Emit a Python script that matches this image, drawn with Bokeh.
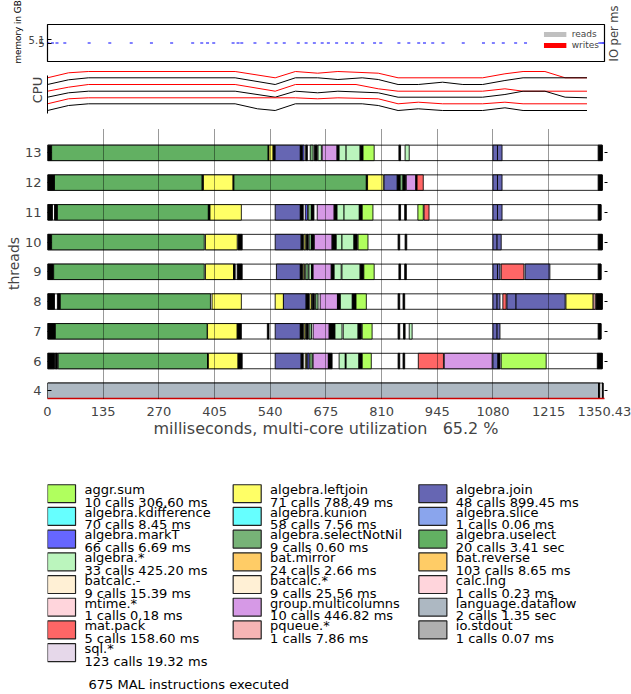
import math
from bokeh.plotting import figure
from bokeh.layouts import column
from bokeh.models import (Range1d, FixedTicker, LinearAxis, ColumnDataSource,
                          Legend, LegendItem, Title)
from bokeh.core.properties import value
from bokeh.embed import file_html
from bokeh.resources import INLINE

FONT = "DejaVu Sans"
W = 631
T_END = 1350.43

# ---------------- data ----------------
x_ticks = [0, 135, 270, 405, 540, 675, 810, 945, 1080, 1215, 1350.43]
threads = ["4", "6", "7", "8", "9", "10", "11", "12", "13"]

# memory samples (ms, GB)
mem_t = [1, 12, 23, 42, 101, 151, 203, 252, 301, 352, 374, 388, 403, 450, 462, 471,
         503, 535, 554, 574, 608, 627, 647, 666, 681, 701, 725, 739, 764, 793, 808,
         852, 876, 900, 914, 934, 959, 1008, 1057, 1081, 1105, 1135, 1159, 1339, 1345, 1349]
mem_v = [5.0] * len(mem_t)

# IO per ms over the run (no IO happened)
io_reads = [0]
io_writes = [0]

# CPU utilisation lines (ms, stacked level)
cpu1_t = [0, 51, 99, 455, 552, 601, 655, 704, 802, 850, 1055, 1109, 1153, 1206, 1255, 1308]
cpu1_v = [35.7, 40.7, 42, 42, 35.7, 42, 40.3, 42, 40.3, 35.7, 35.7, 39.7, 42, 42, 35.7, 35.7]
cpu2_t = [0, 51, 99, 455, 552, 601, 655, 704, 763, 802, 850, 899, 958, 1007, 1055, 1109, 1153, 1308]
cpu2_v = [29, 33.7, 35.7, 35.7, 29, 35.7, 35.7, 34, 35.7, 34, 29, 29, 31.3, 29, 29, 33, 35.7, 35.7]
cpu3_t = [0, 51, 99, 455, 552, 601, 748, 802, 850, 1055, 1109, 1153, 1308]
cpu3_v = [22.3, 26.3, 29, 29, 22.3, 29, 29, 24.7, 22.3, 22.3, 24.7, 22.3, 22.3]
cpu4_t = [0, 51, 99, 455, 552, 601, 655, 704, 802, 850, 1055, 1109, 1153, 1206, 1255, 1308]
cpu4_v = [16.3, 20.7, 22.3, 22.3, 16.3, 22.3, 20.7, 22.3, 20.7, 16.3, 16.3, 19, 22.3, 22.3, 16.3, 15.7]
cpu5_t = [0, 51, 99, 601, 655, 704, 802, 850, 899, 958, 1055, 1109, 1153, 1308]
cpu5_v = [9.7, 14.7, 15.7, 15.7, 14.7, 15.7, 14.7, 9.7, 11.3, 9.7, 9.7, 11.3, 9.7, 9.7]
cpu6_t = [0, 51, 99, 455, 509, 552, 601, 763, 802, 850, 899, 958, 1055, 1109, 1153, 1308]
cpu6_v = [3, 8, 9.7, 9.7, 4.7, 3, 9.7, 9.7, 8, 3, 4.7, 3, 3, 5.7, 3, 3]

# legend / statistics
mal_names = ["aggr.sum", "algebra.leftjoin", "algebra.join",
             "algebra.kdifference", "algebra.kunion", "algebra.slice",
             "algebra.markT", "algebra.selectNotNil", "algebra.uselect",
             "algebra.*", "bat.mirror", "bat.reverse",
             "batcalc.-", "batcalc.*", "calc.lng",
             "mtime.*", "group.multicolumns", "language.dataflow",
             "mat.pack", "pqueue.*", "io.stdout",
             "sql.*"]
mal_calls = [10, 71, 48, 70, 58, 1, 66, 9, 20, 33, 24, 103, 9, 9, 1, 1, 10, 2, 5, 1, 1, 123]
mal_ms = [306.60, 788.49, 899.45, 8.45, 7.56, 0.06, 6.69, 0.60, 3410, 425.20, 2.66, 8.65,
          15.39, 25.56, 0.23, 0.18, 446.82, 1350, 158.60, 7.86, 0.07, 19.32]
mal_colors = ["#b0ff5e", "#ffff66", "#6666b3",
              "#66ffff", "#66ffff", "#8aa5ed",
              "#6666ff", "#77b377", "#62b062",
              "#bbf5bd", "#ffcc66", "#ffcc66",
              "#fff0d5", "#fff0d5", "#ffd5dc",
              "#ffd5dc", "#d699e6", "#adb8c2",
              "#ff6666", "#f5b5b5", "#b0b0b0",
              "#e6d8ea"]
total_instructions = 675
utilization = 65.2

# per-thread execution segments (start ms, end ms, instruction)
U, L, J, T, N, A = "algebra.uselect", "algebra.leftjoin", "algebra.join", "algebra.markT", "algebra.selectNotNil", "algebra.*"
S, G, M, P, D, K = "aggr.sum", "group.multicolumns", "mat.pack", "pqueue.*", "language.dataflow", "short"

seg_13 = [(0, 10, K), (10, 535, U), (535, 537, K), (537, 547, L), (547, 552, K), (552, 613, J), (613, 618, K),
          (618, 622, T), (626, 630, K), (637, 644, N), (647, 654, K), (656, 664, A), (666, 702, G), (702, 707, K),
          (707, 724, A), (724, 758, A), (758, 765, K), (765, 792, S), (852, 856, K), (867, 877, A),
          (1080, 1091, J), (1091, 1102, J), (1335, 1345, K)]
seg_12 = [(0, 17, K), (17, 375, U), (375, 378, K), (378, 450, L), (450, 452, K), (452, 773, U), (773, 776, K),
          (776, 814, L), (816, 848, J), (848, 855, K), (855, 862, N), (862, 868, K), (870, 893, G), (893, 896, K),
          (896, 911, M), (1080, 1091, J), (1091, 1102, J), (1335, 1345, K)]
seg_11 = [(0, 12, K), (17, 24, K), (24, 390, U), (390, 394, K), (394, 470, L), (552, 613, J), (613, 620, K),
          (625, 630, T), (632, 640, N), (640, 646, K), (654, 695, G), (695, 702, K), (702, 719, A), (719, 756, A),
          (756, 763, K), (763, 789, S), (852, 856, K), (866, 870, K), (898, 911, S), (913, 925, M),
          (1080, 1091, J), (1091, 1102, J), (1335, 1342, K)]
seg_10 = [(0, 10, K), (10, 380, U), (383, 460, L), (462, 472, K), (552, 615, J), (615, 620, K), (622, 626, L),
          (628, 632, K), (634, 640, N), (640, 646, K), (647, 690, G), (690, 700, K), (700, 714, A), (714, 743, A),
          (743, 751, K), (753, 777, S), (850, 854, K), (867, 871, K), (1080, 1090, J), (1090, 1100, J),
          (1335, 1345, K)]
seg_9 = [(0, 15, K), (15, 380, U), (383, 451, L), (451, 455, K), (460, 472, K), (555, 613, J), (613, 618, K),
         (620, 623, L), (626, 632, N), (634, 640, A), (640, 644, K), (644, 688, G), (688, 695, K), (695, 712, A),
         (714, 758, A), (758, 767, K), (767, 792, S), (852, 856, K), (866, 870, K), (1080, 1091, J),
         (1091, 1097, J), (1100, 1155, M), (1158, 1218, J), (1335, 1342, K)]
seg_8 = [(0, 17, K), (24, 31, K), (31, 395, U), (399, 470, L), (552, 572, L), (572, 627, J), (627, 634, K),
         (636, 640, L), (642, 647, K), (650, 656, N), (661, 703, G), (703, 710, K), (710, 739, A), (739, 748, K),
         (748, 773, S), (850, 854, K), (862, 866, K), (1080, 1090, J), (1090, 1097, J), (1104, 1112, M),
         (1114, 1136, J), (1136, 1255, J), (1257, 1323, L), (1323, 1328, P), (1330, 1345, K)]
seg_7 = [(0, 19, K), (19, 387, U), (388, 460, L), (460, 470, K), (533, 537, K), (552, 613, J), (613, 620, K),
         (622, 625, L), (627, 632, K), (634, 640, N), (644, 683, G), (683, 697, K), (697, 714, A), (717, 753, A),
         (753, 761, K), (763, 787, S), (850, 854, K), (863, 867, K), (877, 884, A), (1080, 1090, J),
         (1090, 1097, J), (1335, 1342, K)]
seg_6 = [(0, 17, K), (19, 24, K), (26, 388, U), (388, 390, K), (390, 462, L), (462, 472, K), (552, 615, J),
         (615, 620, K), (625, 628, L), (630, 634, T), (636, 642, N), (644, 681, G), (681, 690, K), (707, 722, A),
         (722, 724, K), (724, 755, A), (755, 763, K), (763, 785, S), (850, 854, K), (862, 866, K), (899, 960, M),
         (962, 1078, G), (1080, 1092, J), (1092, 1097, K), (1100, 1209, S), (1333, 1345, K)]
seg_4 = [(0, 1336, D), (1336, 1339, K), (1345, 1347, K)]

thread_segments = [seg_4, seg_6, seg_7, seg_8, seg_9, seg_10, seg_11, seg_12, seg_13]

# ---------------- helpers ----------------
color_of = dict(zip(mal_names, mal_colors))
color_of[K] = "black"


def fmt_time(ms):
    return f"{ms / 1000:.2f} sec" if ms >= 1000 else f"{ms:.2f} ms"


def style_axis(ax, size="13px"):
    ax.axis_label_text_font = FONT
    ax.axis_label_text_font_style = "normal"
    ax.major_label_text_font = FONT
    ax.major_label_text_font_size = size
    ax.minor_tick_line_color = None


common = dict(width=W, output_backend="svg", toolbar_location=None,
              min_border_left=47, min_border_right=27,
              background_fill_color="white", border_fill_color="white")

# ---------------- memory / IO panel ----------------
mem = figure(height=64, x_range=Range1d(0, T_END), y_range=Range1d(4.4, 5.6),
             min_border_top=24, min_border_bottom=3, **common)
mem.extra_y_ranges = {"io": Range1d(0, 1)}
mem.xaxis.visible = False
mem.grid.visible = False
mem.outline_line_color = "black"
mem.outline_line_width = 1.2
mem.yaxis.ticker = FixedTicker(ticks=[5.0, 5.1])
style_axis(mem.yaxis[0], "10px")
mem.yaxis.major_tick_in = 4
mem.yaxis.major_tick_out = 0
mem.yaxis.major_label_standoff = 3
mem.yaxis.axis_line_color = None
mem.add_layout(Title(text="memory in GB", align="left", offset=-2, standoff=6,
                     text_font=FONT, text_font_style="normal", text_font_size="8.8px",
                     text_color="black"), "left")

io_axis = LinearAxis(y_range_name="io", ticker=FixedTicker(ticks=[]), axis_label="IO per ms",
                     axis_line_color=None, axis_label_standoff=9)
style_axis(io_axis)
io_axis.axis_label_text_font_size = "11.5px"
if "axis_label_align" in io_axis.properties():
    io_axis.axis_label_orientation = math.pi / 2
    io_axis.axis_label_align = "start"
mem.add_layout(io_axis, "right")

mem.scatter(mem_t, mem_v, marker="dash", size=3, line_color="blue", line_width=1)
r_reads = mem.quad(left=[0], right=[T_END], top=io_reads, bottom=[0], y_range_name="io",
                   fill_color="#c0c0c0", line_color=None)
r_writes = mem.quad(left=[0], right=[T_END], top=io_writes, bottom=[0], y_range_name="io",
                    fill_color="red", line_color=None)
lg = Legend(items=[LegendItem(label="reads", renderers=[r_reads]),
                   LegendItem(label="writes", renderers=[r_writes])],
            location="top_right", label_text_font=FONT, label_text_font_size="9px",
            glyph_width=28, glyph_height=6, label_height=8, label_standoff=3,
            spacing=1, padding=1, margin=5, border_line_color=None,
            background_fill_alpha=0)
mem.add_layout(lg)

# ---------------- CPU panel ----------------
cpu = figure(height=56, x_range=Range1d(0, T_END), y_range=Range1d(0, 47),
             min_border_top=2, min_border_bottom=7, **common)
cpu.xaxis.visible = False
cpu.grid.visible = False
cpu.outline_line_color = None
cpu.yaxis.ticker = FixedTicker(ticks=[])
cpu.yaxis.axis_label = "CPU"
style_axis(cpu.yaxis[0])
cpu.yaxis.axis_label_text_font_size = "13px"
cpu.yaxis.axis_label_standoff = 3
cpu.yaxis.bounds = (0, 38)
cpu.yaxis.axis_line_color = "black"
for (tt, vv, cc) in [(cpu1_t, cpu1_v, "red"), (cpu2_t, cpu2_v, "black"),
                     (cpu3_t, cpu3_v, "red"), (cpu4_t, cpu4_v, "black"),
                     (cpu5_t, cpu5_v, "red"), (cpu6_t, cpu6_v, "black")]:
    cpu.line(tt, vv, line_color=cc, line_width=1)

# ---------------- threads panel ----------------
main = figure(height=320, x_range=Range1d(0, T_END), y_range=Range1d(-0.26, 8.82),
              min_border_top=8, min_border_bottom=35, **common)
main.outline_line_color = None
main.ygrid.visible = False
main.xgrid.ticker = FixedTicker(ticks=x_ticks)
main.xgrid.grid_line_color = "black"
main.xgrid.grid_line_alpha = 0.8
main.xgrid.grid_line_dash = "1 1"
main.xgrid.level = "overlay"

H = 0.26
bg = dict(left=[], right=[], bottom=[], top=[])
sg = dict(left=[], right=[], bottom=[], top=[], color=[])
for i, segs in enumerate(thread_segments):
    bg["left"].append(0)
    bg["right"].append(max(s[1] for s in segs))
    bg["bottom"].append(i - H)
    bg["top"].append(i + H)
    for (a, b, name) in segs:
        sg["left"].append(a)
        sg["right"].append(b)
        sg["bottom"].append(i - H)
        sg["top"].append(i + H)
        sg["color"].append(color_of[name])
main.quad(source=ColumnDataSource(bg), left="left", right="right", bottom="bottom", top="top",
          fill_color="white", line_color="black", line_width=1, line_alpha=0.85)
main.quad(source=ColumnDataSource(sg), left="left", right="right", bottom="bottom", top="top",
          fill_color="color", line_color="black", line_width=1, line_alpha=0.85)

main.xaxis.ticker = FixedTicker(ticks=x_ticks)
main.xaxis.major_label_overrides = {t: (f"{t:g}") for t in x_ticks}
main.xaxis.axis_label = ("milliseconds, multi-core utilization\u00a0\u00a0 "
                         f"{utilization:.1f} %")
style_axis(main.xaxis[0])
main.xaxis.axis_label_text_font_size = "16px"
main.xaxis.major_tick_line_color = None
main.xaxis.axis_line_color = "#cc0000"
main.xaxis.axis_line_width = 1.5
main.xaxis.major_label_standoff = 2
main.xaxis.axis_label_standoff = 0

main.yaxis.ticker = FixedTicker(ticks=list(range(len(threads))))
main.yaxis.major_label_overrides = {i: t for i, t in enumerate(threads)}
main.yaxis.axis_label = "threads"
style_axis(main.yaxis[0])
main.yaxis.axis_label_text_font_size = "14px"
main.yaxis.axis_line_color = None
main.yaxis.major_tick_in = 4
main.yaxis.major_tick_out = 0
main.yaxis.major_label_standoff = 6
main.yaxis.axis_label_standoff = 0
rax = LinearAxis(ticker=FixedTicker(ticks=list(range(len(threads)))),
                 major_label_overrides={i: "" for i in range(len(threads))},
                 axis_line_color=None, major_tick_out=3, major_tick_in=0)
rax.minor_tick_line_color = None
main.add_layout(rax, "right")

# ---------------- legend panel ----------------
leg = figure(height=254, x_range=Range1d(0.0, 3.0), y_range=Range1d(9.24, -1.95),
             min_border_top=0, min_border_bottom=0, **common)
leg.axis.visible = False
leg.grid.visible = False
leg.outline_line_color = None
cols = [i % 3 for i in range(len(mal_names))]
rows = [i // 3 for i in range(len(mal_names))]
ls = ColumnDataSource(dict(
    left=cols, right=[c + 0.151 for c in cols], top=rows, bottom=[r + 0.79 for r in rows],
    color=mal_colors, tx=[c + 0.199 for c in cols], ty=[r - 0.12 for r in rows],
    txt=[f"{n}\n{c} calls {fmt_time(t)}" for n, c, t in zip(mal_names, mal_calls, mal_ms)]))
leg.quad(source=ls, left="left", right="right", top="top", bottom="bottom",
         fill_color="color", line_color="#222222", line_width=1.2)
leg.text(source=ls, x="tx", y="ty", text="txt", text_font=value(FONT), text_font_size="13px",
         text_baseline="top", text_line_height=0.85, text_color="black")
leg.text(x=[0.221], y=[8.8], text=[f"{total_instructions} MAL instructions executed"],
         text_font=value(FONT), text_font_size="13px", text_baseline="middle", text_color="black")

layout = column(mem, cpu, main, leg, spacing=0)
open("out.html", "w").write(file_html(layout, INLINE))
